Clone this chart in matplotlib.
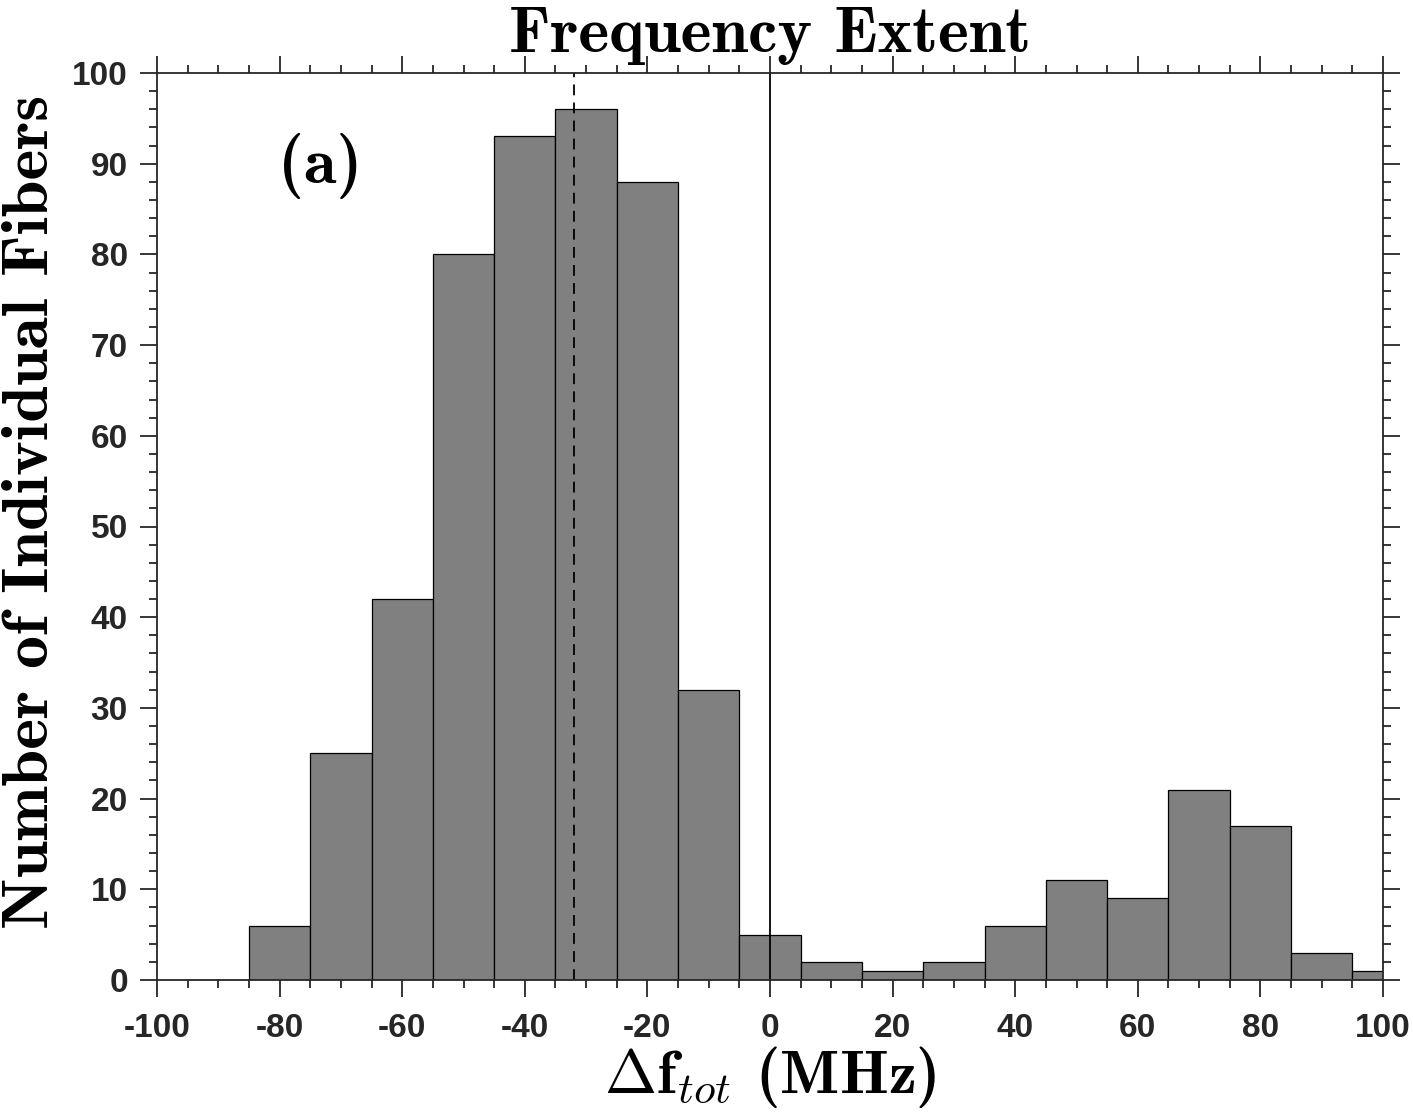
import matplotlib
matplotlib.use('Agg')
import matplotlib.pyplot as plt
from matplotlib.ticker import MultipleLocator

# histogram bin centres (MHz) and counts
bin_centers = [-90, -80, -70, -60, -50, -40, -30, -20, -10, 0,
               10, 20, 30, 40, 50, 60, 70, 80, 90, 100]
counts = [0, 6, 25, 42, 80, 93, 96, 88, 32, 5,
          2, 1, 2, 6, 11, 9, 21, 17, 3, 1]
bin_width = 10
mean_shift = -32
xticks = list(range(-100, 101, 20))
yticks = list(range(0, 101, 10))

plt.rcParams['mathtext.fontset'] = 'cm'
plt.rcParams['axes.unicode_minus'] = False
axcol = '#262626'

fig = plt.figure(figsize=(14.13, 11.15), dpi=100)
ax = fig.add_axes([157/1413, 1 - 980/1115, (1383-157)/1413, (980-73)/1115])

ax.bar(bin_centers, counts, width=bin_width, color='#808080', edgecolor='black', linewidth=0.9)
ax.axvline(mean_shift, color='black', linestyle=(0, (6, 4)), linewidth=1.3)
ax.axvline(0, color='black', linewidth=1.3)

ax.set_xlim(-100, 100)
ax.set_ylim(0, 100)
ax.set_xticks(xticks)
ax.set_yticks(yticks)
ax.xaxis.set_minor_locator(MultipleLocator(5))
ax.yaxis.set_minor_locator(MultipleLocator(2))
ax.tick_params(which='both', direction='out', top=True, right=True, color=axcol, width=1.3)
ax.tick_params(which='major', length=12, labelsize=24, labelcolor=axcol)
ax.tick_params(axis='x', which='major', pad=12)
ax.tick_params(axis='y', which='major', pad=9)
ax.tick_params(which='minor', length=6)
for lab in ax.get_xticklabels() + ax.get_yticklabels():
    lab.set_fontfamily('Liberation Sans')
    lab.set_fontweight('bold')
for s in ax.spines.values():
    s.set_color(axcol)
    s.set_linewidth(1.3)

ax.set_title('Frequency Extent', fontsize=47.5, fontfamily='cmb10', pad=15)
ax.set_xlabel(r'$\mathbf{\Delta f}_{tot}$ (MHz)', fontsize=45, fontfamily='cmb10', labelpad=0)
ax.set_ylabel('Number of Individual Fibers', fontsize=47.5, fontfamily='cmb10')
ax.yaxis.set_label_coords(-0.078, 0.516)
ax.text(-73.4, 89.8, '(a)', fontsize=48, fontfamily='cmb10', ha='center', va='center')

fig.savefig('out.png', dpi=100)
